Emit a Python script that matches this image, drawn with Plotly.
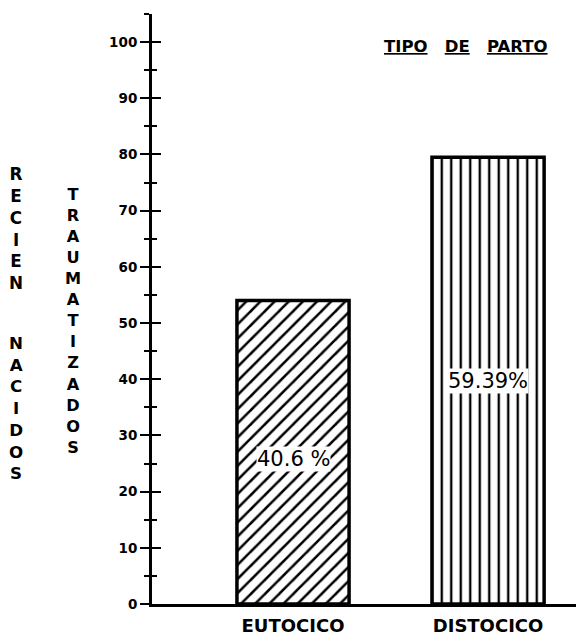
import plotly.graph_objects as go

# ---- data ----
categories = ["EUTOCICO", "DISTOCICO"]
values = [54, 79.5]
pct_labels = ["40.6 %", "59.39%"]
patterns = ["/", "|"]
y_ticks = [0, 10, 20, 30, 40, 50, 60, 70, 80, 90, 100]
y_tick_text = ["0", "10", "20", "30", "40", "50", "60", "70", "80", "90", "100"]

# the page body adds an 8px offset; the figure is sized to fit the window
OFF = 8
W, H = 584 - OFF, 635 - OFF
ML, MR, MT, MB = 152 - OFF, 0, 14 - OFF, 31
PW, PH = W - ML - MR, H - MT - MB


def px(xp):
    return (xp - OFF - ML) / PW


def py(yp):
    return (H - MB - (yp - OFF)) / PH


BOLD = "DejaVu Sans"

fig = go.Figure()
fig.add_trace(go.Bar(
    x=categories, y=values, width=0.575,
    marker=dict(color="white", line=dict(color="black", width=3.5),
                pattern=dict(shape=patterns, fgcolor="black", bgcolor="white",
                             size=[10, 9.5], solidity=0.25, fillmode="replace")),
    showlegend=False, hoverinfo="skip",
))
# helper trace for the overlaid axis carrying the inner half of the ticks
fig.add_trace(go.Scatter(x=categories, y=values, yaxis="y2", mode="markers",
                         marker=dict(opacity=0), showlegend=False, hoverinfo="skip"))

label_shift = [-7, 0]
for c, v, t, s in zip(categories, values, pct_labels, label_shift):
    fig.add_annotation(x=c, y=v / 2, text=t, showarrow=False, bgcolor="white",
                       xanchor="center", yanchor="middle", yshift=s,
                       font=dict(family="DejaVu Sans", size=21, color="black"),
                       borderpad=0)


def side_text(xp, yp, txt, size):
    fig.add_annotation(x=px(xp), y=py(yp), xref="paper", yref="paper",
                       xanchor="center", yanchor="middle",
                       text=txt, showarrow=False,
                       font=dict(family=BOLD, size=size, color="black", weight="bold"))


# vertical titles
side_text(16, 228, "<br>".join("RECIEN"), 16.8)
side_text(16, 408, "<br>".join("NACIDOS"), 16.7)
side_text(73, 321, "<br>".join("TRAUMATIZADOS"), 16.2)
side_text(466, 46, "<u>TIPO</u>&nbsp;&nbsp;&nbsp;<u>DE</u>&nbsp;&nbsp;&nbsp;<u>PARTO</u>", 16.5)

axis_common = dict(range=[0, 105], tickvals=y_ticks, showgrid=False, zeroline=False,
                   automargin=False)
fig.update_layout(
    width=W, height=H,
    margin=dict(l=ML, r=MR, t=MT, b=MB, autoexpand=False),
    plot_bgcolor="white", paper_bgcolor="white",
    xaxis=dict(range=[-0.723, 1.492], showline=True, linecolor="black", linewidth=2.5,
               ticks="", showgrid=False, ticklabelstandoff=4, automargin=False,
               tickfont=dict(family=BOLD, size=18, color="black", weight="bold")),
    yaxis=dict(**axis_common, ticktext=y_tick_text, showline=True, linecolor="black",
               linewidth=3, ticks="outside", ticklen=9, tickwidth=2, tickcolor="black",
               minor=dict(dtick=5, ticks="outside", ticklen=5, tickwidth=2, tickcolor="black"),
               tickfont=dict(family=BOLD, size=13.5, color="black", weight="bold")),
    yaxis2=dict(**axis_common, overlaying="y", side="left", showline=False,
                ticks="inside", ticklen=9, tickwidth=2, tickcolor="black",
                showticklabels=False,
                minor=dict(dtick=5, ticks="inside", ticklen=5, tickwidth=2, tickcolor="black")),
)

fig.write_html("out.html")
